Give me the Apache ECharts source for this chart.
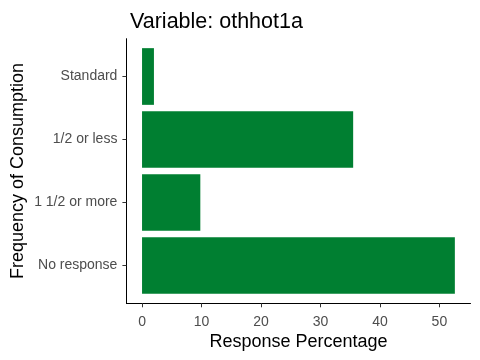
<!DOCTYPE html>
<html><head><meta charset="utf-8">
<script src="https://cdn.jsdelivr.net/npm/echarts@6/dist/echarts.min.js"></script>
<style>html,body{margin:0;padding:0;background:#fff}#c{width:480px;height:360px}</style>
</head><body><div id="c"></div>
<script>
var categories = ['No response', '1 1/2 or more', '1/2 or less', 'Standard'];
var values = [52.6, 9.8, 35.5, 2.0];
var xTicks = [0, 10, 20, 30, 40, 50];
var titleText = 'Variable: othhot1a';
var xTitle = 'Response Percentage';
var yTitle = 'Frequency of Consumption';

var font = 'Liberation Sans, Arial, sans-serif';
var xMin = -2.63, xMax = 55.23;
var chart = echarts.init(document.getElementById('c'), null, {renderer: 'canvas'});
chart.setOption({
  animation: false,
  textStyle: {fontFamily: font},
  title: [
    {text: titleText, left: 125, top: 6, textStyle: {fontFamily: font, fontSize: 21.5, fontWeight: 'normal', color: '#000'}}
  ],
  grid: [
    {left: 126.4, right: 9.5, top: 45, bottom: 63, containLabel: false, outerBoundsMode: 'none'},
    {left: 126.4, right: 9.5, top: 38.7, bottom: 56.7, containLabel: false, outerBoundsMode: 'none'}
  ],
  xAxis: [
    {type: 'value', gridIndex: 0, min: xMin, max: xMax, offset: 6.3,
     name: xTitle, nameLocation: 'middle', nameGap: 30, nameMoveOverlap: false,
     nameTextStyle: {fontFamily: font, fontSize: 18, color: '#000'},
     axisLine: {show: false, onZero: false},
     splitLine: {show: false},
     axisLabel: {fontFamily: font, fontSize: 14, color: '#4D4D4D', margin: 11.5,
       customValues: xTicks},
     axisTick: {show: true, length: 4, lineStyle: {color: '#333'}, customValues: xTicks}
    },
    {type: 'value', gridIndex: 1, min: xMin, max: xMax,
     axisLine: {show: true, onZero: false, lineStyle: {color: '#000', width: 1}},
     axisTick: {show: false}, axisLabel: {show: false}, splitLine: {show: false}}
  ],
  yAxis: [
    {type: 'category', gridIndex: 0, data: categories,
     name: yTitle, nameLocation: 'middle', nameGap: 99, nameRotate: 90, nameMoveOverlap: false,
     nameTextStyle: {fontFamily: font, fontSize: 18, color: '#000'},
     axisLine: {show: false, onZero: false},
     axisTick: {show: true, alignWithLabel: true, length: 4, lineStyle: {color: '#333'}},
     axisLabel: {fontFamily: font, fontSize: 14, color: '#4D4D4D', margin: 9, padding: [3, 0, 0, 0]}},
    {type: 'value', gridIndex: 1, min: 0, max: 1,
     axisLine: {show: true, onZero: false, lineStyle: {color: '#000', width: 1}},
     axisTick: {show: false}, axisLabel: {show: false}, splitLine: {show: false}}
  ],
  series: [
    {type: 'bar', xAxisIndex: 0, yAxisIndex: 0, data: values, barWidth: '90%',
     itemStyle: {color: '#007F31'}}
  ]
});
</script></body></html>
